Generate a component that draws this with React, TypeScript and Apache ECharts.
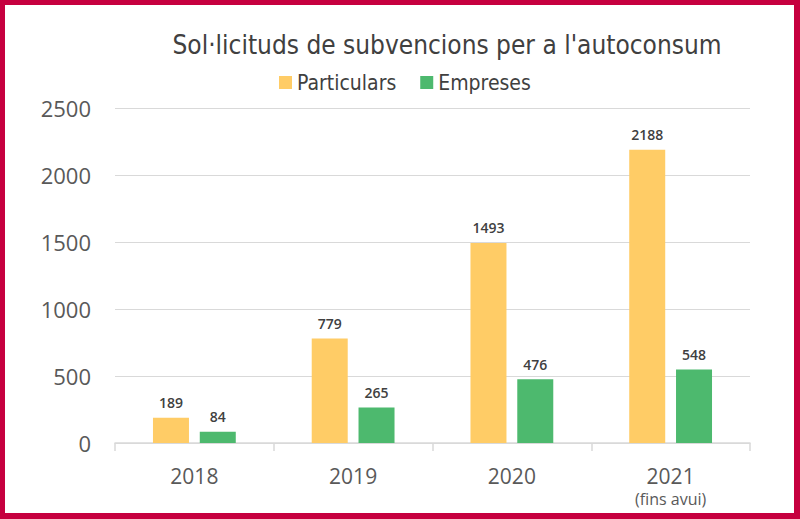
import React, { useEffect, useRef } from "react";
import * as echarts from "echarts";

const categories = ["2018", "2019", "2020", "2021"];
const categoryNotes = ["", "", "", "(fins avui)"];
const particulars = [189, 779, 1493, 2188];
const empreses = [84, 265, 476, 548];
const seriesNames = ["Particulars", "Empreses"];
const yTicks = { min: 0, max: 2500, interval: 500 };

export default function App() {
  const ref = useRef<HTMLDivElement>(null);
  useEffect(() => {
    if (!ref.current) return;
    const chart = echarts.init(ref.current, undefined, { renderer: "svg" });
    const border = "#C6003F";
    const axisFont = "'Open Sans', Lato, sans-serif";
    const condFont = "'DejaVu Sans Condensed', 'Liberation Sans Narrow', 'Open Sans', sans-serif";
    chart.setOption({
      animation: false,
      backgroundColor: "#ffffff",
      title: {
        text: "Sol·licituds de subvencions per a l'autoconsum",
        left: 442,
        textAlign: "center",
        top: 27,
        textStyle: { fontFamily: condFont, fontSize: 26, fontWeight: "normal", color: "#404040" },
      },
      legend: {
        data: seriesNames,
        left: 274,
        top: 67,
        itemWidth: 13,
        itemHeight: 13,
        itemGap: 24,
        icon: "rect",
        textStyle: { fontFamily: condFont, fontSize: 21, color: "#404040" },
      },
      grid: { left: 115, right: 50, top: 108, bottom: 76 },
      xAxis: {
        type: "category",
        data: categories,
        axisLine: { lineStyle: { color: "#d9d9d9", width: 1.5 } },
        axisTick: { show: true, length: 8, lineStyle: { color: "#d9d9d9", width: 1.5 } },
        axisLabel: {
          margin: 20,
          formatter: (v: string, i: number) =>
            categoryNotes[i] ? `{a|${v}}\n{b|${categoryNotes[i]}}` : `{a|${v}}`,
          rich: {
            a: { fontFamily: axisFont, fontSize: 21, color: "#595959", lineHeight: 26 },
            b: { fontFamily: axisFont, fontSize: 16, color: "#595959", lineHeight: 19 },
          },
        },
      },
      yAxis: {
        type: "value",
        min: yTicks.min,
        max: yTicks.max,
        interval: yTicks.interval,
        axisLine: { show: false },
        axisTick: { show: false },
        splitLine: { lineStyle: { color: "#d9d9d9", width: 1 } },
        axisLabel: {
          fontFamily: axisFont,
          fontSize: 22,
          color: "#595959",
          margin: 24,
          formatter: (v: number) => String(v),
        },
      },
      series: [
        {
          name: seriesNames[0],
          type: "bar",
          data: particulars,
          barWidth: 36,
          barGap: "30%",
          itemStyle: { color: "#FFCC66" },
          label: { show: true, position: "top", distance: 8, fontFamily: axisFont, fontSize: 14, fontWeight: 600, color: "#404040" },
        },
        {
          name: seriesNames[1],
          type: "bar",
          data: empreses,
          barWidth: 36,
          itemStyle: { color: "#4DB96E" },
          label: { show: true, position: "top", distance: 8, fontFamily: axisFont, fontSize: 14, fontWeight: 600, color: "#404040" },
        },
      ],
      graphic: [
        { type: "rect", shape: { x: 0, y: 0, width: 800, height: 5 }, style: { fill: border }, silent: true },
        { type: "rect", shape: { x: 0, y: 0, width: 5, height: 519 }, style: { fill: border }, silent: true },
        { type: "rect", shape: { x: 794, y: 0, width: 6, height: 519 }, style: { fill: border }, silent: true },
        { type: "rect", shape: { x: 0, y: 513, width: 800, height: 6 }, style: { fill: border }, silent: true },
      ],
    });
    return () => chart.dispose();
  }, []);
  return (
    <div
      ref={ref}
      style={{ position: "absolute", left: 0, top: 0, width: 800, height: 519 }}
    />
  );
}
